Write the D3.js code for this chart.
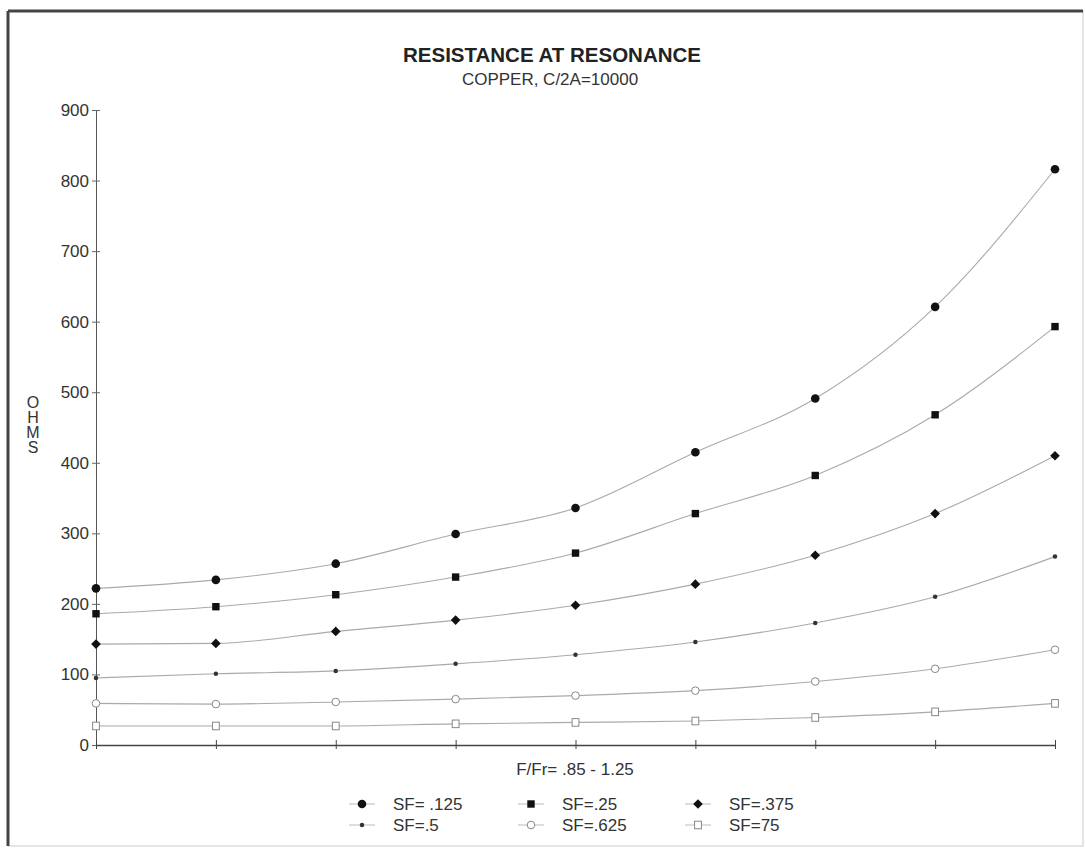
<!DOCTYPE html>
<html><head><meta charset="utf-8">
<script src="https://cdn.jsdelivr.net/npm/d3@7"></script>
<style>body{margin:0;background:#fff;} svg{display:block;font-family:Arial,"Liberation Sans",sans-serif;}</style>
</head><body><svg id="c" width="1085" height="850"></svg>
<script>
const categories = [".85", ".90", ".95", "1.00", "1.05", "1.10", "1.15", "1.20", "1.25"];
const sf125 = [222, 234, 257, 299, 336, 415, 491, 621, 816];
const sf25  = [186, 196, 213, 238, 272, 328, 382, 468, 593];
const sf375 = [143, 144, 161, 177, 198, 228, 269, 328, 410];
const sf5   = [95, 101, 105, 115, 128, 146, 173, 210, 267];
const sf625 = [59, 58, 61, 65, 70, 77, 90, 108, 135];
const sf75  = [27, 27, 27, 30, 32, 34, 39, 47, 59];
const seriesNames = ["SF= .125", "SF=.25", "SF=.375", "SF=.5", "SF=.625", "SF=75"];
const yTicks = [0, 100, 200, 300, 400, 500, 600, 700, 800, 900];

const series = [sf125, sf25, sf375, sf5, sf625, sf75].map((v, i) => ({name: seriesNames[i], values: v, idx: i}));

const svg = d3.select("#c");
// frame
svg.append("rect").attr("x", 8).attr("y", 11).attr("width", 1075).attr("height", 835)
  .attr("fill", "none").attr("stroke", "#ccc").attr("stroke-width", 1);
svg.append("line").attr("x1", 8).attr("x2", 1083).attr("y1", 11).attr("y2", 11).attr("stroke", "#444").attr("stroke-width", 3);
svg.append("line").attr("x1", 8).attr("x2", 8).attr("y1", 11).attr("y2", 846).attr("stroke", "#444").attr("stroke-width", 3);

const x = d3.scalePoint().domain(categories).range([96, 1055]);
const y = d3.scaleLinear().domain([0, 900]).range([745, 110]);

// titles
svg.append("text").attr("x", 552).attr("y", 62).attr("text-anchor", "middle")
  .attr("font-size", 20.5).attr("font-weight", "bold").attr("fill", "#222").text("RESISTANCE AT RESONANCE");
svg.append("text").attr("x", 550).attr("y", 85).attr("text-anchor", "middle")
  .attr("font-size", 17).attr("fill", "#333").text("COPPER, C/2A=10000");

// y axis
const yAxis = d3.axisLeft(y).tickValues(yTicks).tickSize(0).tickPadding(7);
const gy = svg.append("g").attr("transform", "translate(96,0)").call(yAxis);
gy.select(".domain").attr("stroke", "#555");
gy.selectAll("text").attr("font-size", 17).attr("fill", "#333").attr("font-family", "Arial, 'Liberation Sans', sans-serif");
gy.selectAll(".tick").append("line").attr("x1", -4).attr("x2", 4).attr("stroke", "#666");

// x axis
const xAxis = d3.axisBottom(x).tickSize(0).tickFormat("");
const gx = svg.append("g").attr("transform", "translate(0,745)").call(xAxis);
gx.select(".domain").attr("stroke", "#444").attr("stroke-width", 1.3);
gx.selectAll(".tick").append("line").attr("y1", -5).attr("y2", 4).attr("stroke", "#444");

// axis titles
svg.append("text").attr("x", 575).attr("y", 775).attr("text-anchor", "middle")
  .attr("font-size", 17).attr("fill", "#333").text("F/Fr= .85 - 1.25");
const ohm = svg.append("text").attr("x", 33).attr("y", 408).attr("text-anchor", "middle")
  .attr("font-size", 16).attr("fill", "#333");
"OHMS".split("").forEach((ch, i) => ohm.append("tspan").attr("x", 33).attr("dy", i ? 15 : 0).text(ch));

// lines
const line = d3.line().x((d, i) => x(categories[i])).y(d => y(d)).curve(d3.curveMonotoneX);
svg.append("g").selectAll("path").data(series).join("path")
  .attr("d", d => line(d.values)).attr("fill", "none").attr("stroke", "#aaa").attr("stroke-width", 1.1);

function drawMarker(g, idx) {
  if (idx === 0) g.append("circle").attr("r", 4.3).attr("fill", "#111");
  else if (idx === 1) g.append("rect").attr("x", -3.7).attr("y", -3.7).attr("width", 7.4).attr("height", 7.4).attr("fill", "#111");
  else if (idx === 2) g.append("rect").attr("x", -3.4).attr("y", -3.4).attr("width", 6.8).attr("height", 6.8).attr("transform", "rotate(45)").attr("fill", "#111");
  else if (idx === 3) g.append("path").attr("d", d3.symbol(d3.symbolCircle, 16)()).attr("fill", "#333");
  else if (idx === 4) g.append("circle").attr("r", 3.8).attr("fill", "#fff").attr("stroke", "#888").attr("stroke-width", 1);
  else g.append("rect").attr("x", -3.4).attr("y", -3.8).attr("width", 6.8).attr("height", 7.6).attr("fill", "#fff").attr("stroke", "#888").attr("stroke-width", 1);
}

// markers
series.forEach(s => {
  s.values.forEach((v, i) => {
    const g = svg.append("g").attr("transform", `translate(${x(categories[i])},${y(v)})`);
    drawMarker(g, s.idx);
  });
});

// legend
const legX = [362, 531, 698];
const legY = [804, 825];
series.forEach((s, i) => {
  const lx = legX[i % 3], ly = legY[Math.floor(i / 3)];
  const g = svg.append("g").attr("transform", `translate(${lx},${ly})`);
  g.append("line").attr("x1", -13).attr("x2", 13).attr("stroke", "#bbb").attr("stroke-width", 1);
  drawMarker(g, s.idx);
  svg.append("text").attr("x", lx + 31).attr("y", ly + 6).attr("font-size", 17).attr("fill", "#333").text(s.name);
});
</script></body></html>
